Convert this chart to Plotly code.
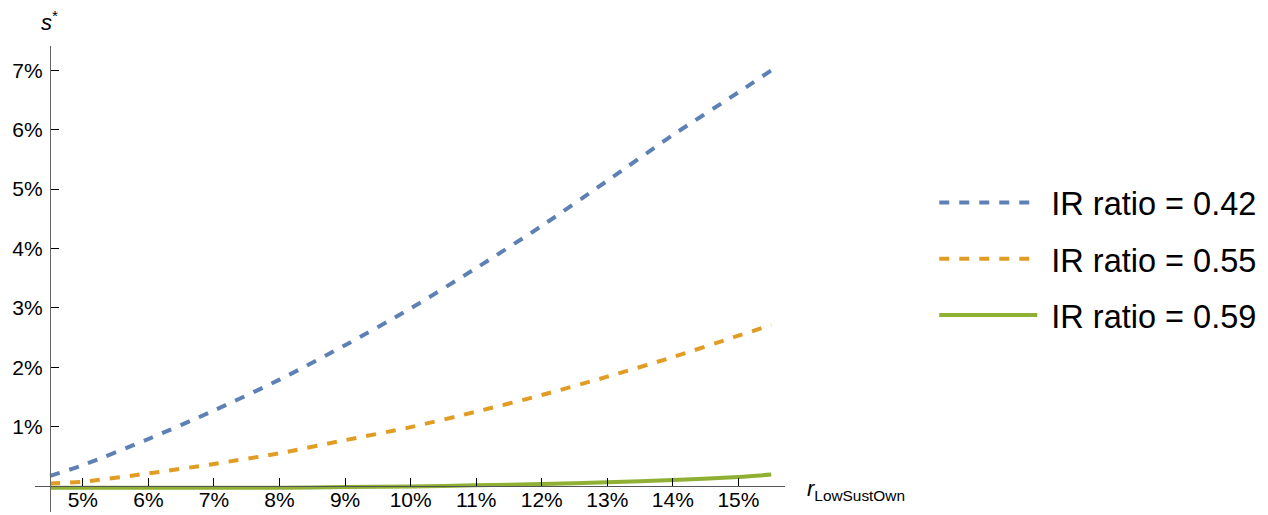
import plotly.graph_objects as go

# Data (values in percent)
r_low = [4.5, 5, 6, 7, 8, 9, 10, 11, 12, 13, 14, 15, 15.5]
s_042 = [0.17, 0.35, 0.79, 1.27, 1.79, 2.37, 2.99, 3.67, 4.38, 5.14, 5.91, 6.63, 7.0]
s_055 = [0.04, 0.07, 0.21, 0.37, 0.55, 0.77, 0.99, 1.25, 1.53, 1.84, 2.17, 2.53, 2.71]
s_059 = [-0.03, -0.03, -0.03, -0.03, -0.03, -0.02, -0.01, 0.01, 0.03, 0.06, 0.10, 0.15, 0.19]

names = ["IR ratio = 0.42", "IR ratio = 0.55", "IR ratio = 0.59"]
colors = ["#5E81B5", "#E19C24", "#8FB032"]
dashes = ["10px,10px", "10px,10px", "solid"]

x_ticks = [5, 6, 7, 8, 9, 10, 11, 12, 13, 14, 15]
y_ticks = [1, 2, 3, 4, 5, 6, 7]

x_range = [4.27, 15.71]
y_range = [-0.44, 7.41]
x_origin = 4.5
y_origin = 0.0

FONT = "Liberation Sans, Arial, sans-serif"

fig = go.Figure()
for i, (ys, nm) in enumerate(zip([s_042, s_055, s_059], names)):
    fig.add_trace(go.Scatter(
        x=r_low, y=ys, mode="lines", name="\u00a0" + nm,
        line=dict(color=colors[i], width=4, dash=dashes[i], shape="spline", smoothing=0.8),
        legendgroup=f"g{i}",
    ))

ypos = (x_origin - x_range[0]) / (x_range[1] - x_range[0])
xpos = (y_origin - y_range[0]) / (y_range[1] - y_range[0])

fig.update_layout(
    width=1260, height=507,
    margin=dict(l=27, r=483, t=38, b=3),
    plot_bgcolor="white", paper_bgcolor="white",
    font=dict(family=FONT, color="black"),
    xaxis=dict(
        range=x_range, anchor="free", position=xpos,
        showline=True, linecolor="#555555", linewidth=1.3,
        showgrid=False, zeroline=False,
        ticks="inside", ticklen=8, tickcolor="black", tickwidth=1.2,
        tickvals=x_ticks, ticktext=[f"{v}%" for v in x_ticks],
        tickfont=dict(size=21, family=FONT, color="black"),
        ticklabelstandoff=-5,
        automargin=False,
    ),
    yaxis=dict(
        range=y_range, anchor="free", position=ypos,
        showline=True, linecolor="#666666", linewidth=1.3,
        showgrid=False, zeroline=False,
        ticks="inside", ticklen=8, tickcolor="black", tickwidth=1.2,
        tickvals=y_ticks, ticktext=[f"{v}%" for v in y_ticks],
        tickfont=dict(size=21, family=FONT, color="black"),
        ticklabelstandoff=3,
        automargin=False,
    ),
    showlegend=True,
    legend=dict(
        x=1.199, y=0.543, xanchor="left", yanchor="middle",
        font=dict(size=32.5, family=FONT, color="black"),
        itemwidth=98, tracegroupgap=11, bgcolor="rgba(0,0,0,0)",
    ),
    annotations=[
        dict(text="<i>s</i><sup>*</sup>", xref="paper", yref="paper",
             x=0.019, y=1.054, xanchor="center", yanchor="middle",
             showarrow=False, font=dict(size=22, family=FONT, color="black")),
        dict(text="<i>r</i><sub>LowSustOwn</sub>", xref="paper", yref="paper",
             x=1.027, y=0.047, xanchor="left", yanchor="middle",
             showarrow=False, font=dict(size=22, family=FONT, color="black")),
    ],
)

fig.write_html("out.html")
